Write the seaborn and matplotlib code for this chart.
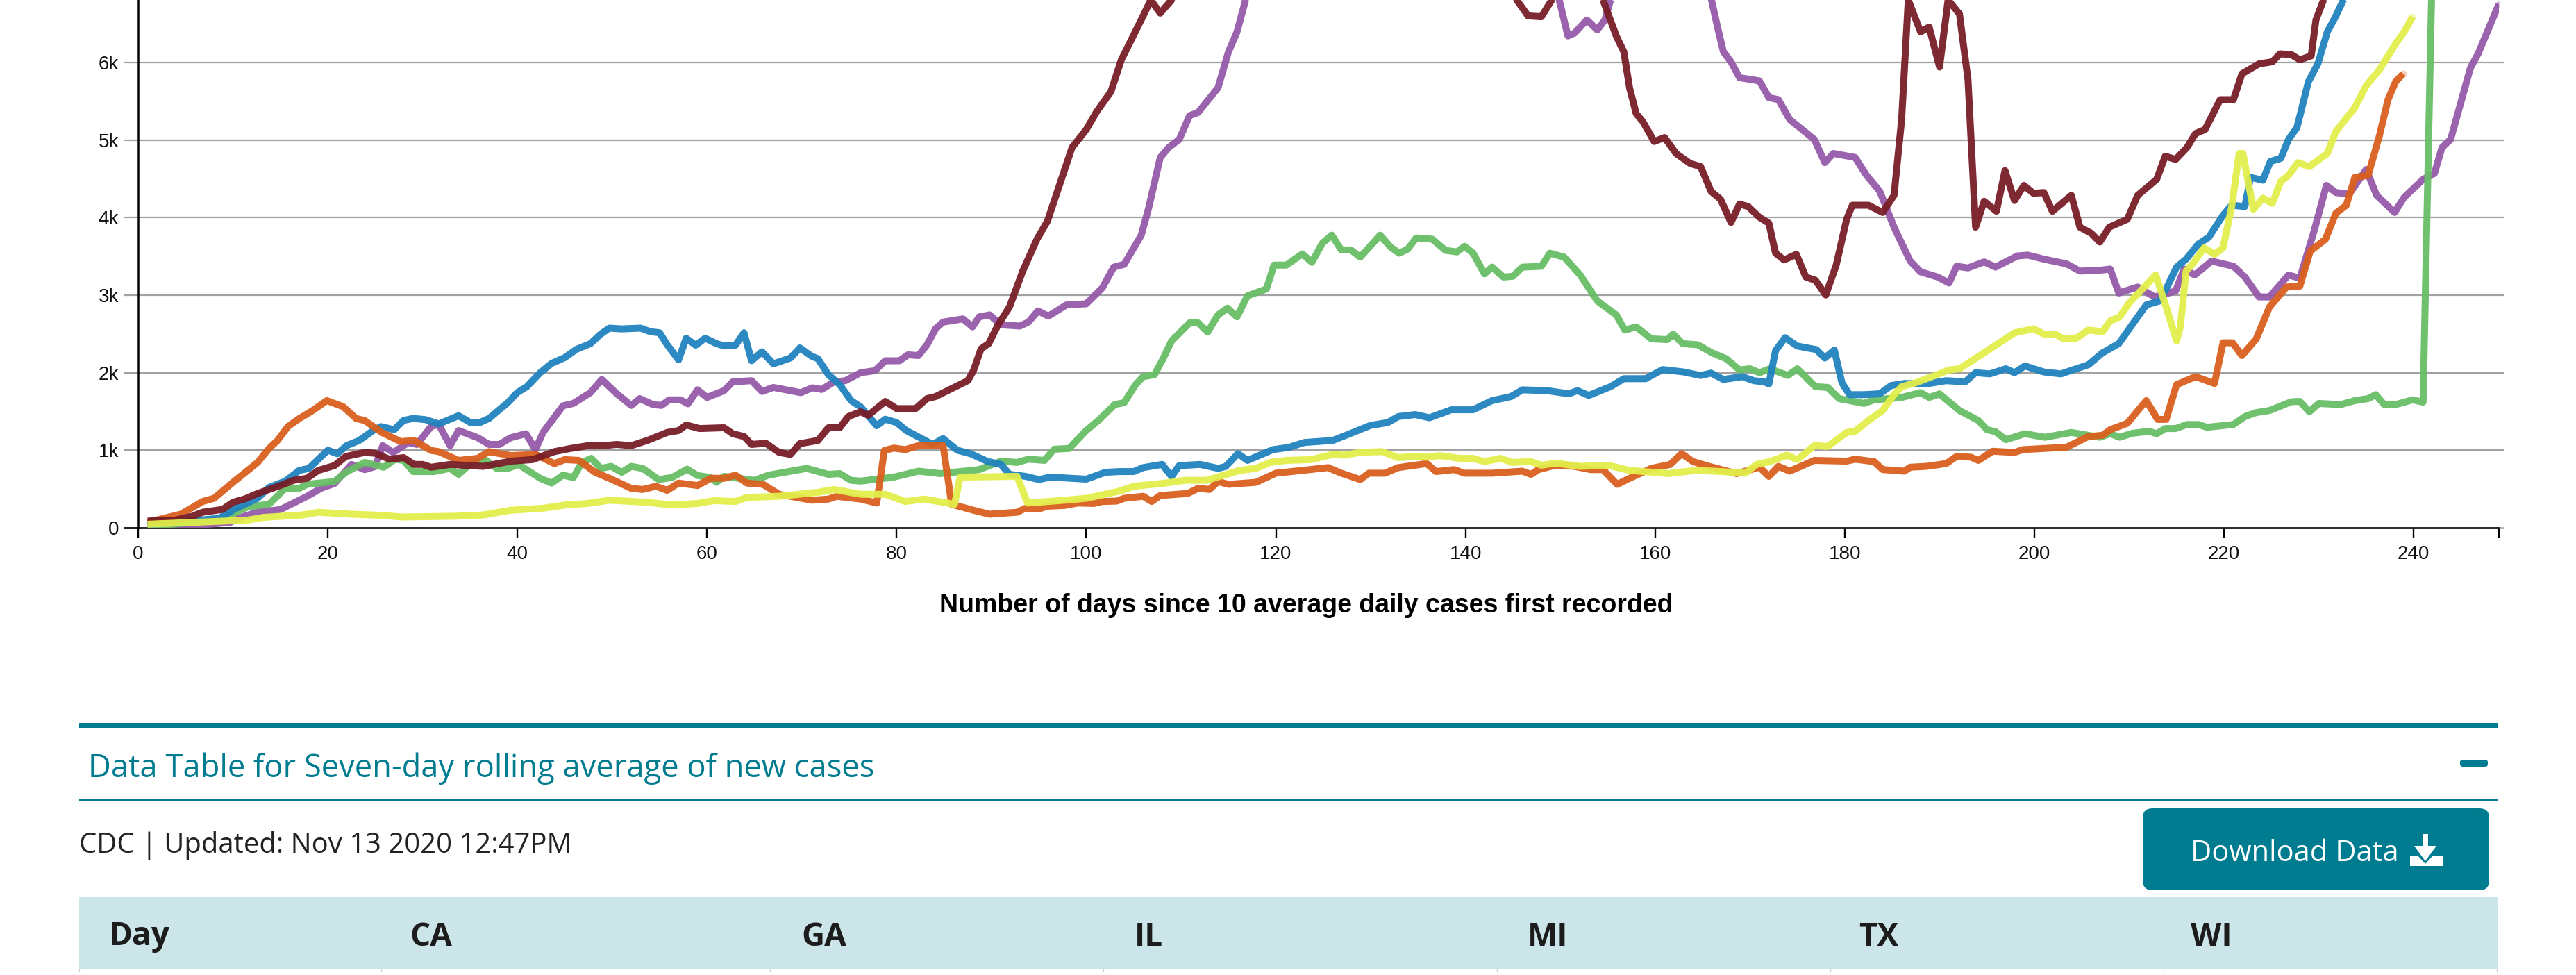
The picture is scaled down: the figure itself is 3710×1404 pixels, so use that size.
import matplotlib
matplotlib.use("Agg")
import matplotlib.pyplot as plt
from matplotlib.patches import FancyBboxPatch, Rectangle, Polygon
import seaborn as sns

# Values, (day, cases). Parts above the crop are rough guesses.
ca_days = [1, 5, 9.7, 11.2, 12.6, 15, 17.8, 19.3, 20.7, 22.5, 23.9, 25, 25.8, 26.9, 28.5, 29.4, 30.9, 31.7, 32.9, 33.8,
           35.8, 37, 38.1, 39.3, 40.9, 41.9, 42.7, 44.8, 45.9, 47.7, 48.9, 50.5, 52, 52.9, 54.3, 55.2, 56, 57.2, 58, 59,
           60, 61.8, 62.7, 64.7, 65.8, 67, 69.9, 71.1, 72.1, 73.4, 74.6, 76.2, 77.7, 78.8, 80.3, 81.2, 82.3, 83.2, 84.1, 84.9,
           87, 88, 88.7, 89.8, 91, 93, 93.9, 94.9, 96, 97.9, 100, 101.7, 102.9, 104, 105.8, 106.6, 107.8, 108.7, 109.8, 110.9,
           111.8, 113.9, 115, 115.9, 116.8, 120, 125, 130, 135, 140, 145, 148.5, 149.9, 150.8, 151.5, 152.8, 153.9, 154.7, 155.3, 158,
           161, 164, 165.6, 166.6, 167.2, 168, 168.9, 171, 172, 173, 174.2, 176.8, 177.9, 178.8, 181.1, 182.3, 183.7, 185.2, 186.9, 188,
           189.8, 191, 191.8, 193, 194.7, 195.9, 198.2, 199.3, 201, 203.4, 204.8, 206.9, 208, 208.9, 210.9, 212.7, 214.9, 215.8, 216.9, 218.7,
           221, 222.2, 223.7, 224.8, 226.8, 228, 229.5, 230.8, 231.8, 233.2, 235, 236.1, 238, 239, 241, 242.2, 243, 243.9, 246, 246.8, 249]
ca_cases = [10, 20, 70, 150, 200, 235, 405, 510, 570, 817, 750, 790, 1059, 970, 1100, 1075, 1306, 1331, 1059, 1254,
            1162, 1075, 1075, 1162, 1213, 1008, 1229, 1573, 1604, 1743, 1912, 1727, 1578, 1666, 1589, 1578, 1650, 1650, 1599, 1779,
            1681, 1769, 1882, 1897, 1758, 1810, 1743, 1805, 1784, 1882, 1897, 2000, 2026, 2154, 2154, 2231, 2221, 2360, 2566, 2653,
            2694, 2591, 2720, 2746, 2617, 2602, 2653, 2797, 2730, 2874, 2889, 3095, 3362, 3398, 3774, 4134, 4776, 4905, 5008, 5316,
            5357, 5676, 6139, 6396, 6807, 7800, 8500, 9300, 9700, 9800, 8500, 7600, 6800, 6344, 6380, 6550, 6421, 6550, 6807, 7400,
            7800, 7600, 7000, 6447, 6139, 6010, 5805, 5764, 5548, 5522, 5265, 5008, 4710, 4828, 4776, 4545, 4339, 3877, 3440, 3301,
            3234, 3157, 3373, 3352, 3429, 3362, 3506, 3517, 3465, 3404, 3311, 3321, 3337, 3028, 3105, 2977, 3054, 3337, 3260, 3440,
            3373, 3234, 2977, 2977, 3260, 3219, 3825, 4416, 4324, 4303, 4622, 4288, 4067, 4262, 4494, 4571, 4905, 5008, 5933, 6113, 6756]

ga_days = [1, 8.6, 10.3, 11.5, 13.8, 15.5, 17, 17.8, 20.7, 21.9, 23.9, 25.9, 27.1, 28, 29, 31.2, 32.9, 33.8, 35.2, 36.7,
           37.8, 39, 40.1, 42.4, 43.6, 44.8, 45.9, 46.8, 47.8, 48.8, 49.9, 51, 52, 53.2, 54.9, 56.3, 57.9, 59, 60.4, 61,
           61.8, 65, 66.5, 70.5, 72.8, 74, 75.2, 76.2, 79.7, 82.3, 84.6, 88.7, 91, 92.7, 93.9, 95.6, 96.6, 98.2, 100, 101.4,
           103, 104, 105.2, 106, 107.2, 108.1, 109, 110.9, 111.8, 112.8, 113.9, 114.9, 115.9, 117, 119, 119.8, 121.1, 122.8, 123.8, 124.9,
           125.9, 126.9, 127.9, 128.9, 131, 132.1, 133, 133.9, 134.8, 136.5, 137.9, 139.1, 139.9, 140.8, 142, 142.8, 144, 145, 146, 148,
           148.9, 150.4, 152.1, 153.9, 155.9, 156.8, 158, 159.6, 161.3, 161.9, 162.9, 164.5, 166, 167.5, 168.9, 170, 171, 172.1, 174, 175,
           176.9, 178.2, 179.4, 182, 183.1, 186, 188, 188.9, 190, 192.1, 194.1, 195, 195.9, 197, 199, 201.1, 203.9, 206.9, 208, 209,
           210.3, 212.1, 212.9, 213.8, 214.9, 216.1, 217.3, 218.2, 221, 222.2, 223.4, 224.8, 227.1, 228, 229, 230, 232.3, 233.8, 235.2, 236,
           236.9, 238.1, 239.9, 241, 242]
ga_cases = [20, 98, 200, 267, 303, 509, 509, 560, 596, 715, 843, 781, 884, 869, 725, 725, 766, 689, 843, 869,
            766, 766, 817, 638, 576, 679, 648, 843, 895, 766, 792, 715, 792, 766, 622, 648, 756, 674, 648, 586,
            663, 612, 679, 766, 689, 699, 612, 602, 653, 730, 699, 750, 859, 843, 884, 869, 1013, 1023, 1254, 1398,
            1589, 1614, 1846, 1949, 1974, 2180, 2411, 2643, 2643, 2524, 2746, 2833, 2720, 2992, 3080, 3388, 3388, 3532, 3424, 3671,
            3774, 3584, 3584, 3491, 3774, 3620, 3542, 3594, 3738, 3722, 3578, 3558, 3630, 3542, 3275, 3362, 3234, 3244, 3362, 3373,
            3542, 3491, 3260, 2925, 2746, 2550, 2591, 2437, 2427, 2499, 2375, 2360, 2257, 2180, 2036, 2051, 2000, 2051, 1964, 2051,
            1820, 1810, 1666, 1604, 1650, 1681, 1743, 1681, 1727, 1512, 1383, 1265, 1239, 1136, 1213, 1167, 1229, 1167, 1213, 1167,
            1218, 1244, 1213, 1280, 1280, 1332, 1332, 1296, 1332, 1434, 1486, 1512, 1625, 1630, 1496, 1604, 1589, 1640, 1666, 1717,
            1589, 1589, 1650, 1620, 7450]

il_days = [1, 8.5, 10.3, 12.6, 13.8, 15.5, 17, 18, 20, 21, 22, 23.3, 24.8, 25.6, 27, 28, 29, 30.3, 31.7, 33.8,
           35, 36, 37, 39, 40, 41, 42.4, 43.6, 45, 46.2, 47.7, 48.8, 49.7, 51, 53, 54, 55, 55.8, 57, 57.8,
           58.8, 59.8, 61, 61.8, 63, 63.9, 64.7, 65.8, 67, 68.8, 69.8, 71, 71.7, 72.8, 74, 75.2, 76.2, 77.9, 78.8, 80,
           81, 83.8, 84.9, 86.4, 87.8, 89.6, 91, 91.9, 93.6, 95, 96.2, 100, 102, 103.5, 105, 106, 108, 109, 109.8, 112,
           113.9, 114.7, 116, 117, 119.7, 121.4, 123, 126, 127.6, 130, 131.8, 132.9, 134.7, 136.2, 138.5, 140.8, 142.8, 144.8, 146, 148.6,
           150.9, 151.8, 153, 155.3, 156.7, 159, 160.8, 163, 164.8, 165.9, 167.2, 169.2, 170.4, 171.5, 172, 172.7, 173.7, 175, 177, 177.9,
           178.9, 179.7, 180.5, 182, 183.7, 184.9, 186.3, 188.6, 190.7, 192.7, 193.8, 195.3, 197, 197.9, 199, 201, 202.8, 205.7, 207.2, 208.9,
           210.3, 211.8, 213.2, 214, 215, 216, 217.3, 218.4, 219.9, 220.8, 222.2, 222.8, 224.1, 224.9, 226, 226.8, 227.7, 228.9, 229.9, 230.9,
           231.8, 232.6, 236, 240]
il_cases = [40, 120, 250, 380, 520, 600, 740, 765, 1000, 955, 1060, 1125, 1255, 1305, 1265, 1385, 1410, 1395, 1340, 1445,
            1360, 1355, 1410, 1615, 1745, 1820, 2000, 2120, 2195, 2300, 2375, 2500, 2575, 2565, 2575, 2530, 2515, 2360, 2165, 2445,
            2355, 2445, 2375, 2345, 2355, 2515, 2155, 2270, 2115, 2190, 2320, 2215, 2180, 1975, 1845, 1640, 1560, 1316, 1400, 1357,
            1255, 1075, 1150, 1000, 955, 855, 817, 690, 663, 622, 653, 627, 715, 725, 725, 776, 817, 663, 801, 817,
            766, 790, 956, 869, 1008, 1038, 1100, 1126, 1203, 1321, 1357, 1434, 1460, 1419, 1522, 1522, 1640, 1692, 1779, 1769,
            1728, 1769, 1707, 1820, 1923, 1923, 2041, 2010, 1964, 1995, 1913, 1949, 1897, 1882, 1856, 2283, 2452, 2344, 2298, 2190,
            2293, 1871, 1717, 1717, 1728, 1835, 1861, 1856, 1897, 1882, 2000, 1985, 2051, 2000, 2087, 2010, 1985, 2103, 2257, 2375,
            2617, 2874, 2925, 3105, 3362, 3465, 3660, 3748, 4031, 4160, 4144, 4519, 4483, 4725, 4766, 5008, 5162, 5753, 5984, 6396,
            6601, 6807, 7900, 9400]

mi_days = [1, 4.5, 6.8, 8, 10, 12.6, 13.8, 14.7, 15.8, 17, 18.4, 19.9, 21.6, 23, 23.9, 25.7, 27.7, 29.1, 30.9, 31.7,
           33.8, 35.8, 37, 39.3, 41.9, 43.9, 45, 46.5, 48.2, 49.7, 52, 53.2, 54.6, 55.8, 57, 59, 60.4, 61.8, 63, 64.2,
           65.9, 67.6, 71.1, 72.8, 73.7, 76.2, 77.9, 78.7, 79.7, 80.9, 82.3, 84.9, 85.8, 88.1, 89.8, 92.7, 93.6, 95, 95.9, 97.7,
           99.1, 100.8, 101.7, 103.2, 104, 106, 106.9, 107.8, 110.7, 111.8, 113, 113.9, 115, 117.9, 120, 122.8, 125.5, 126.9, 128.9, 129.8,
           131.5, 132.9, 135.9, 136.9, 138.8, 139.9, 142.8, 146, 146.9, 147.7, 149.5, 151.5, 153.2, 154.5, 156, 157.3, 159.6, 161.6, 162.8, 164,
           165.7, 168.6, 171, 172, 173, 174.2, 176.8, 180.2, 181.1, 183.1, 184, 186.3, 186.9, 188.6, 190.7, 191.8, 193.3, 194.1, 195.6, 197.9,
           198.8, 203.4, 205.7, 207.2, 208, 209.8, 211.8, 213, 213.9, 215, 217, 219, 219.9, 220.9, 221.9, 223.4, 224.8, 226.6, 228, 229.1,
           230.7, 231.8, 232.9, 233.8, 235.2, 236.4, 237.3, 238.1, 238.9]
mi_cases = [72, 175, 339, 380, 586, 843, 1023, 1126, 1306, 1409, 1512, 1640, 1563, 1409, 1383, 1229, 1111, 1126, 997, 982,
            869, 895, 982, 931, 946, 828, 879, 869, 715, 638, 509, 494, 535, 483, 576, 545, 638, 638, 679, 576,
            560, 432, 355, 370, 406, 370, 319, 997, 1028, 1008, 1059, 1059, 303, 226, 175, 200, 252, 242, 278, 288,
            319, 314, 339, 344, 380, 406, 339, 416, 442, 509, 494, 596, 560, 586, 704, 740, 776, 704, 622, 704,
            704, 776, 828, 725, 750, 704, 704, 730, 689, 750, 807, 792, 750, 750, 560, 638, 766, 817, 956, 853,
            792, 699, 781, 663, 792, 730, 869, 859, 884, 853, 751, 730, 781, 792, 828, 920, 910, 869, 987, 972,
            1008, 1039, 1177, 1193, 1265, 1347, 1640, 1398, 1398, 1846, 1949, 1861, 2386, 2386, 2221, 2437, 2848, 3105, 3116, 3568,
            3722, 4057, 4160, 4519, 4545, 5059, 5522, 5753, 5856]

tx_days = [1, 3.9, 5.7, 6.8, 8.9, 10, 11.2, 12.6, 15, 16.4, 17.8, 19, 20.7, 21.9, 23.9, 25, 26.5, 28, 29.1, 30,
           30.9, 32.9, 36.4, 39.3, 41.6, 43.9, 45.6, 47.7, 49, 50.5, 52, 53.7, 55.8, 57, 57.8, 59.2, 61.8, 62.7, 63.9, 64.7,
           66.2, 67.6, 68.8, 69.8, 71.7, 72.8, 74, 74.9, 76.2, 77, 78.8, 80, 82, 83.2, 84.1, 87.5, 88.1, 88.9, 89.7, 90.7,
           91.9, 93.3, 94.8, 95.9, 98.5, 100, 101.1, 102.6, 103.7, 106, 106.8, 107.8, 109, 110, 115, 120, 125, 130, 135, 140,
           144, 145.4, 146.6, 148, 149.1, 150, 152, 154.5, 155.9, 156.7, 157.3, 158, 158.7, 159.9, 161, 162.2, 163.7, 164.8, 165.9, 166.9,
           168, 168.9, 169.8, 171, 172, 172.7, 173.6, 174.9, 175.9, 176.9, 178, 179.1, 180.2, 180.8, 182.5, 184, 185.2, 186, 186.7, 188,
           188.9, 190, 190.9, 192.1, 193, 193.8, 194.7, 196, 196.9, 197.9, 198.9, 199.9, 201, 201.9, 203.9, 204.8, 206, 206.9, 207.9, 209.8,
           210.9, 212.9, 213.8, 214.9, 216.1, 217, 218, 219.6, 221, 221.9, 223.7, 225.1, 225.9, 227.1, 228, 229.2, 229.7, 230.5, 235, 240, 245, 249]
tx_cases = [87, 98, 149, 200, 237, 329, 370, 442, 545, 612, 638, 740, 802, 920, 972, 961, 884, 905, 817, 817,
            781, 817, 792, 859, 879, 982, 1023, 1064, 1059, 1075, 1059, 1126, 1229, 1254, 1326, 1280, 1290, 1213, 1177, 1075,
            1090, 972, 946, 1085, 1126, 1290, 1290, 1434, 1496, 1450, 1630, 1537, 1537, 1666, 1692, 1897, 2026, 2308, 2375, 2617,
            2848, 3311, 3722, 3954, 4905, 5136, 5368, 5625, 6036, 6602, 6807, 6638, 6807, 7200, 8700, 9900, 10200, 9800, 9600, 8800,
            7400, 6807, 6602, 6591, 6807, 7100, 7300, 6807, 6344, 6139, 5676, 5342, 5239, 4982, 5033, 4828, 4699, 4658, 4339, 4237,
            3938, 4175, 4144, 4005, 3928, 3542, 3455, 3527, 3234, 3193, 3003, 3388, 3979, 4160, 4160, 4067, 4288, 5265, 6807, 6396,
            6458, 5943, 6807, 6627, 5779, 3877, 4211, 4082, 4607, 4221, 4416, 4314, 4324, 4082, 4288, 3877, 3799, 3686, 3877, 3979,
            4288, 4494, 4792, 4751, 4905, 5085, 5136, 5522, 5522, 5856, 5984, 6010, 6113, 6103, 6036, 6087, 6550, 6807, 8500, 10000, 11000, 12000]

wi_days = [1, 11.5, 13.2, 17.3, 19, 22.5, 25.9, 27.7, 33.5, 36.4, 39.3, 42.7, 45, 47.4, 49.7, 53.7, 56.3, 59, 60.7, 63,
           64.2, 67.6, 71.7, 73.4, 76.2, 78.8, 80.9, 82.9, 86.1, 86.7, 92.7, 93.8, 97.7, 100, 103.5, 105, 108, 110.4, 112.7, 116.2,
           117.9, 119.4, 121.1, 123.7, 126, 127.2, 128.9, 131.2, 132.9, 134.7, 135.9, 137.3, 139.4, 140.8, 142, 143.7, 144.9, 146.9, 148, 149.5,
           152.1, 155, 157.3, 161.4, 164.3, 167, 169.5, 170.7, 172.1, 173.9, 175, 176.8, 178.2, 180.2, 181.1, 182.5, 184, 185.2, 186, 187.5,
           189.2, 191, 192.1, 194.7, 197.9, 199.9, 201, 202.2, 203.1, 204.3, 205.7, 207.2, 208, 209, 210, 212.8, 213.9, 215, 215.4, 216,
           216.7, 217.9, 219, 219.9, 220.8, 221.6, 222, 222.5, 223.1, 224.1, 225.1, 226, 226.8, 227.8, 229, 230.9, 231.8, 233.8, 235, 236.4,
           238.1, 239, 239.9]
wi_cases = [46, 98, 134, 165, 200, 175, 159, 139, 149, 165, 226, 252, 293, 314, 355, 329, 293, 314, 350, 339,
            391, 406, 458, 494, 432, 432, 339, 370, 303, 653, 663, 319, 355, 380, 473, 535, 571, 612, 612, 740,
            766, 843, 869, 879, 946, 936, 972, 982, 905, 920, 910, 931, 895, 895, 853, 895, 843, 853, 807, 833,
            792, 807, 740, 699, 740, 725, 704, 817, 853, 936, 879, 1059, 1049, 1229, 1244, 1383, 1512, 1717, 1820, 1871,
            1949, 2036, 2051, 2257, 2514, 2566, 2499, 2499, 2437, 2437, 2550, 2530, 2668, 2720, 2900, 3260, 2848, 2411, 2591, 3311,
            3404, 3610, 3527, 3610, 4134, 4828, 4828, 4494, 4108, 4252, 4185, 4468, 4545, 4710, 4658, 4828, 5111, 5419, 5702, 5908,
            6242, 6396, 6591]

x_ticks = [0, 20, 40, 60, 80, 100, 120, 140, 160, 180, 200, 220, 240, 249]
x_labels = ["0", "20", "40", "60", "80", "100", "120", "140", "160", "180", "200", "220", "240", ""]
y_ticks = [0, 1000, 2000, 3000, 4000, 5000, 6000]
y_labels = ["0", "1k", "2k", "3k", "4k", "5k", "6k"]
table_headers = ["Day", "CA", "GA", "IL", "MI", "TX", "WI"]

TEAL = "#007c91"

sns.set_theme(style="white")
plt.rcParams["font.family"] = ["Liberation Sans", "DejaVu Sans"]

W, H = 3710, 1404
fig = plt.figure(figsize=(W / 100, H / 100), dpi=100, facecolor="white")

# page layer in pixels
page = fig.add_axes([0, 0, 1, 1], zorder=0)
page.set_xlim(0, W)
page.set_ylim(H, 0)
page.axis("off")

# chart: x=0 at 199px, day 249 at 3599px, y=0 at 760px, top of image is about 6.8k
ax = fig.add_axes([199 / W, (H - 760) / H, 3400 / W, 760 / H], zorder=1)
ax.patch.set_alpha(0)

for y in y_ticks[1:]:
    ax.plot([-1.46, 249.5], [y, y], color="#a2a2a2", lw=1.6, clip_on=False, zorder=1)
ax.plot([-1.46, 249.5], [0, 0], color="#a2a2a2", lw=1.8, clip_on=False, zorder=1)

series = [
    (ca_days, ca_cases, "#9558a8"),
    (ga_days, ga_cases, "#67bd65"),
    (il_days, il_cases, "#1e82bd"),
    (mi_days, mi_cases, "#d95f1c"),
    (tx_days, tx_cases, "#771c26"),
    (wi_days, wi_cases, "#e3ee4a"),
]
for days, cases, col in series:
    sns.lineplot(x=days, y=cases, color=col, lw=7.2, alpha=0.94, estimator=None, sort=False,
                 solid_joinstyle="round", solid_capstyle="butt", ax=ax, zorder=3)
    # pale dot on the last reading
    sns.scatterplot(x=days[-1:], y=cases[-1:], color=col, alpha=0.3, s=52, linewidth=0, ax=ax, zorder=3)

ax.set_xlim(0, 249)
ax.set_ylim(0, 6807)
ax.set_xticks(x_ticks)
ax.set_xticklabels(x_labels)
ax.set_yticks(y_ticks)
ax.set_yticklabels(y_labels)
ax.tick_params(axis="x", length=11, width=1.7, color="black", pad=7, labelsize=20, labelcolor="#111111", bottom=True)
ax.tick_params(axis="y", length=0, pad=20, labelsize=20, labelcolor="#111111")
ax.set_xlabel("")
ax.set_ylabel("")
for side in ["top", "right"]:
    ax.spines[side].set_visible(False)
for side in ["left", "bottom"]:
    ax.spines[side].set_color("black")
    ax.spines[side].set_linewidth(1.8)
ax.plot([-1.46, 0], [0, 0], color="black", lw=1.9, clip_on=False, zorder=2)

page.text(1881, 872, "Number of days since 10 average daily cases first recorded", ha="center", va="center",
          fontsize=27, fontweight="bold", color="black")

# data table section below the chart
page.add_patch(Rectangle((114, 1041), 3484, 8, color=TEAL, lw=0))
page.add_patch(Rectangle((114, 1151), 3484, 3, color=TEAL, lw=0))
page.text(127, 1107, "Data Table for Seven-day rolling average of new cases", ha="left", va="center",
          fontsize=32.7, color=TEAL, family="Open Sans")
page.add_patch(FancyBboxPatch((3543, 1094), 40, 10, boxstyle="round,pad=0,rounding_size=4", color=TEAL, lw=0))
page.text(114, 1217, "CDC | Updated: Nov 13 2020 12:47PM", ha="left", va="center", fontsize=28.8, color="#222222",
          family="Open Sans")

page.add_patch(FancyBboxPatch((3086, 1164), 499, 118, boxstyle="round,pad=0,rounding_size=14", color=TEAL, lw=0))
page.text(3155, 1229, "Download Data", ha="left", va="center", fontsize=30, color="white", family="Open Sans")
page.add_patch(Rectangle((3489, 1201), 8, 22, color="white", lw=0))
page.add_patch(Polygon([[3477, 1218], [3509, 1218], [3493, 1240]], color="white", lw=0))
page.add_patch(Polygon([[3471, 1232], [3482, 1232], [3493, 1244], [3504, 1232], [3518, 1232], [3518, 1247], [3471, 1247]],
                       color="white", lw=0))

page.add_patch(Rectangle((114, 1292), 3484, 104, color="#cce5e9", lw=0))
header_x = [157, 590, 1154, 1634, 2200, 2677, 3155]
for name, x in zip(table_headers, header_x):
    page.text(x, 1349, name, ha="left", va="center", fontsize=33, fontweight="bold", color="#1c1c1c", family="Open Sans")
for x in [114, 549, 1109, 1589, 2156, 2636, 3116, 3596]:
    page.plot([x, x], [1396, 1399], color="#d0d0d0", lw=1)

fig.savefig("out.png", dpi=100, facecolor="white")
